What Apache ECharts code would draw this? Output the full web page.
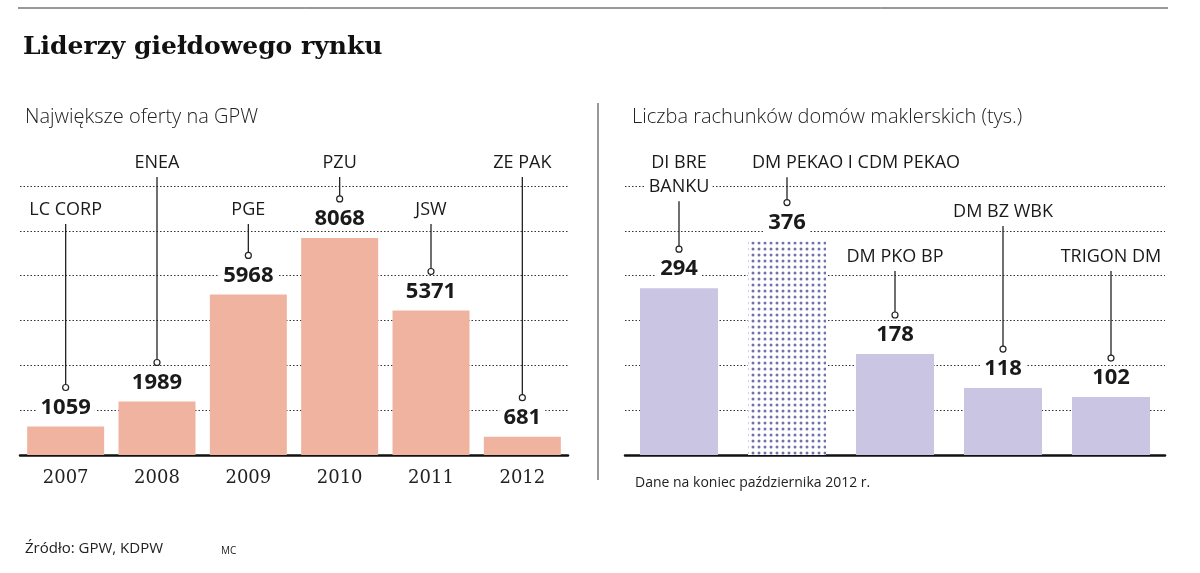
<!DOCTYPE html>
<html><head><meta charset="utf-8">
<script src="https://cdn.jsdelivr.net/npm/echarts@6/dist/echarts.min.js"></script>
<style>html,body{margin:0;padding:0;background:#fff}#c{width:1200px;height:573px}</style>
</head><body><div id="c"></div>
<script>
const years = ['2007','2008','2009','2010','2011','2012'];
const offerValues = [1059, 1989, 5968, 8068, 5371, 681];
const offerNames = ['LC CORP','ENEA','PGE','PZU','JSW','ZE PAK'];
const offerNameLevels = [9108, 10855, 9108, 10855, 9108, 10855];
const brokers = ['DI BRE\nBANKU','DM PEKAO I CDM PEKAO','DM PKO BP','DM BZ WBK','TRIGON DM'];
const accountValues = [294, 376, 178, 118, 102];
const brokerNameLevels = [493, 514, 349, 428, 349];

const chart = echarts.init(document.getElementById('c'));
const pc = document.createElement('canvas'); pc.width = 6; pc.height = 6;
const px = pc.getContext('2d'); px.fillStyle='#fff'; px.fillRect(0,0,6,6);
px.fillStyle='#6f73ad'; px.beginPath(); px.arc(3,3,1.5,0,Math.PI*2); px.fill();

function leader(values, names, aligns){
  return function(params, api){
    const i = api.value(0);
    const top = api.coord([i, api.value(1)]);
    const nm = api.coord([i, api.value(2)]);
    const lines = names[i].split('\n').length;
    const x = top[0];
    const circY = top[1]-39;
    const al = aligns ? aligns[i] : 0;
    return {type:'group', children:[
      {type:'line', shape:{x1:x,y1:nm[1]+lines*12+2,x2:x,y2:circY-3}, style:{stroke:'#222',lineWidth:1.3}},
      {type:'circle', shape:{cx:x,cy:circY,r:3}, style:{fill:'#fff',stroke:'#222',lineWidth:1.2}},
      {type:'text', x:x, y:top[1]-19, style:{text:String(values[i]), font:'bold 22px "Open Sans"', fill:'#1a1a1a', align:'center', verticalAlign:'middle', backgroundColor:'#fff', padding:[0,4]}},
      {type:'text', x:x+al, y:nm[1], style:{text:names[i], font:'18px "Open Sans"', fill:'#1a1a1a', align:al?'left':'center', verticalAlign:'middle', lineHeight:24, backgroundColor:'#fff', padding:[0,3]}}
    ]};
  };
}
const ySplit = {show:true, lineStyle:{color:'#333', type:[1.5,2], width:1.2}};
chart.setOption({
  animation:false,
  title:[
    {text:'Liderzy giełdowego rynku', left:18, top:30, textStyle:{fontFamily:'DejaVu Serif', fontWeight:'bold', fontSize:25, color:'#111'}},
    {text:'Największe oferty na GPW', left:20, top:102, textStyle:{fontFamily:'Open Sans', fontWeight:300, fontSize:20, color:'#222'}},
    {text:'Liczba rachunków domów maklerskich (tys.)', left:627, top:102, textStyle:{fontFamily:'Open Sans', fontWeight:300, fontSize:20, color:'#222'}},
    {text:'Dane na koniec października 2012 r.', left:630, top:471, textStyle:{fontFamily:'Open Sans', fontWeight:'normal', fontSize:14, color:'#222'}},
    {text:'Źródło: GPW, KDPW', left:20, top:536, textStyle:{fontFamily:'Open Sans', fontWeight:'normal', fontSize:15, color:'#222'}},
    {text:'MC', left:216, top:541, textStyle:{fontFamily:'Open Sans', fontWeight:'normal', fontSize:10, color:'#222'}}
  ],
  graphic:[
    {type:'line', shape:{x1:18,y1:8,x2:1168,y2:8}, style:{stroke:'#333',lineWidth:1}},
    {type:'line', shape:{x1:598,y1:103,x2:598,y2:480}, style:{stroke:'#333',lineWidth:1}}
  ],
  grid:[{left:20, right:632, top:186, bottom:118},{left:625, right:35, top:186, bottom:118}],
  xAxis:[
    {type:'category', gridIndex:0, data:years, axisTick:{show:false}, axisLine:{lineStyle:{color:'#111',width:2.5}},
     axisLabel:{fontFamily:'DejaVu Serif', fontSize:18, color:'#222', margin:14}},
    {type:'category', gridIndex:1, data:brokers, axisTick:{show:false}, axisLine:{lineStyle:{color:'#111',width:2.5}}, axisLabel:{show:false}}
  ],
  yAxis:[
    {type:'value', gridIndex:0, min:0, max:10000, interval:10000/6, axisLabel:{show:false}, axisLine:{show:false}, axisTick:{show:false}, splitLine:ySplit},
    {type:'value', gridIndex:1, min:0, max:474, interval:79, axisLabel:{show:false}, axisLine:{show:false}, axisTick:{show:false}, splitLine:ySplit}
  ],
  series:[
    {type:'bar', xAxisIndex:0, yAxisIndex:0, data:offerValues, barWidth:77, itemStyle:{color:'#efb39f'}},
    {type:'bar', xAxisIndex:1, yAxisIndex:1, barWidth:78,
     data:accountValues.map((v,i)=> i===1 ? {value:v, itemStyle:{color:{image:pc, repeat:'repeat'}}} : v),
     itemStyle:{color:'#c9c5e3'}},
    {type:'custom', xAxisIndex:0, yAxisIndex:0, clip:false, renderItem:leader(offerValues, offerNames),
     data:offerValues.map((v,i)=>[i,v,offerNameLevels[i]]), z:5},
    {type:'custom', xAxisIndex:1, yAxisIndex:1, clip:false, renderItem:leader(accountValues, brokers, [0,-38,0,0,0]),
     data:accountValues.map((v,i)=>[i,v,brokerNameLevels[i]]), z:5}
  ]
});
</script></body></html>
